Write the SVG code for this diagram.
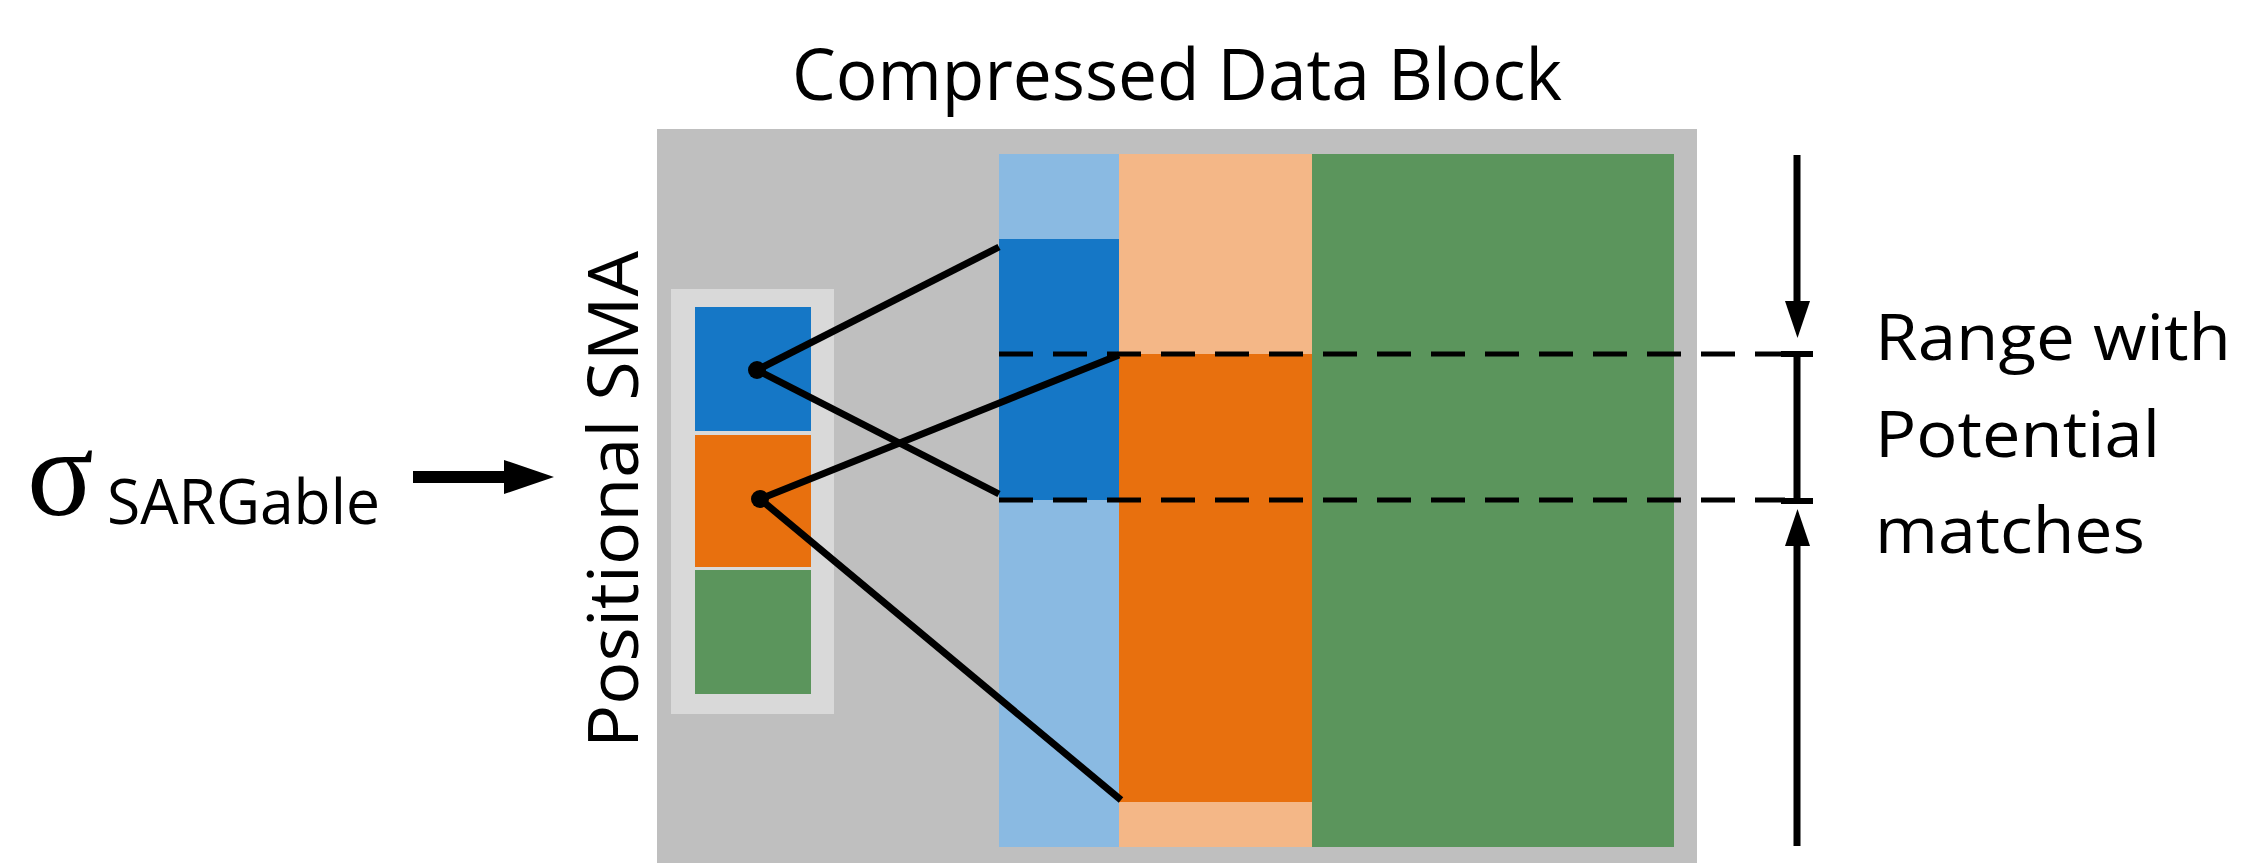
<svg xmlns="http://www.w3.org/2000/svg" width="2245" height="863" viewBox="0 0 2245 863">
<style>
.t{font-family:"Open Sans","Noto Sans","Liberation Sans",sans-serif;fill:#000}
.ln{stroke:#000;stroke-width:7;fill:none;stroke-linecap:butt}
.dash{stroke:#000;stroke-width:5;fill:none;stroke-dasharray:34 20}
.blue{fill:#1577C6}.lblue{fill:#8ABAE2}.peach{fill:#F4B787}.orange{fill:#E8700E}.green{fill:#5B955C}
</style>
<rect width="2245" height="863" fill="#fff"/>
<g id="title"><text class="t" x="792" y="100" font-size="72" textLength="770" lengthAdjust="spacingAndGlyphs">Compressed Data Block</text></g>
<g id="block">
<rect x="657" y="129" width="1040" height="734" fill="#BFBFBF"/>
<rect class="lblue" x="999" y="154" width="120" height="693"/>
<rect class="blue" x="999" y="239" width="120" height="261"/>
<rect class="peach" x="1119" y="154" width="193" height="693"/>
<rect class="orange" x="1119" y="354" width="193" height="448"/>
<rect class="green" x="1312" y="154" width="362" height="693"/>
</g>
<g id="sma">
<rect x="671" y="289" width="163" height="425" fill="#D9D9D9"/>
<rect class="blue" x="695" y="307" width="116" height="124"/>
<rect class="orange" x="695" y="435" width="116" height="132"/>
<rect class="green" x="695" y="570" width="116" height="124"/>
</g>
<g id="sma-label"><text class="t" transform="translate(638,748) rotate(-90)" font-size="70" textLength="497" lengthAdjust="spacingAndGlyphs">Positional SMA</text></g>
<g id="sigma">
<text x="27" y="515" font-family="Liberation Serif,serif" font-size="124">σ</text>
<text class="t" x="107" y="524" font-size="63" textLength="273" lengthAdjust="spacingAndGlyphs">SARGable</text>
</g>
<g id="range-label">
<text class="t" font-size="64"><tspan x="1875" y="360" textLength="356" lengthAdjust="spacingAndGlyphs">Range with</tspan><tspan x="1875" y="457" textLength="285" lengthAdjust="spacingAndGlyphs">Potential</tspan><tspan x="1875" y="553" textLength="270" lengthAdjust="spacingAndGlyphs">matches</tspan></text>
</g>
<g id="connectors">
<rect x="413" y="471" width="92" height="12" fill="#000"/>
<polygon points="504,460 554,477 504,494" fill="#000"/>
<line class="ln" x1="757" y1="370" x2="999" y2="247"/>
<line class="ln" x1="757" y1="370" x2="999" y2="494"/>
<line class="ln" x1="760" y1="499" x2="1119" y2="355"/>
<line class="ln" x1="760" y1="499" x2="1121" y2="800"/>
<circle cx="757" cy="370" r="9"/>
<circle cx="760" cy="499" r="9"/>
<line class="dash" x1="999" y1="354" x2="1785" y2="354"/>
<line class="dash" x1="999" y1="500" x2="1785" y2="500"/>
<line class="ln" x1="1797" y1="155" x2="1797" y2="305"/>
<polygon points="1785,301 1810,301 1797.5,338" fill="#000"/>
<line x1="1781" y1="354" x2="1813" y2="354" stroke="#000" stroke-width="6"/>
<line class="ln" x1="1797" y1="354" x2="1797" y2="501"/>
<line x1="1781" y1="501" x2="1813" y2="501" stroke="#000" stroke-width="6"/>
<polygon points="1785,546 1810,546 1797.5,509" fill="#000"/>
<line class="ln" x1="1797" y1="542" x2="1797" y2="846"/>
</g>
</svg>
